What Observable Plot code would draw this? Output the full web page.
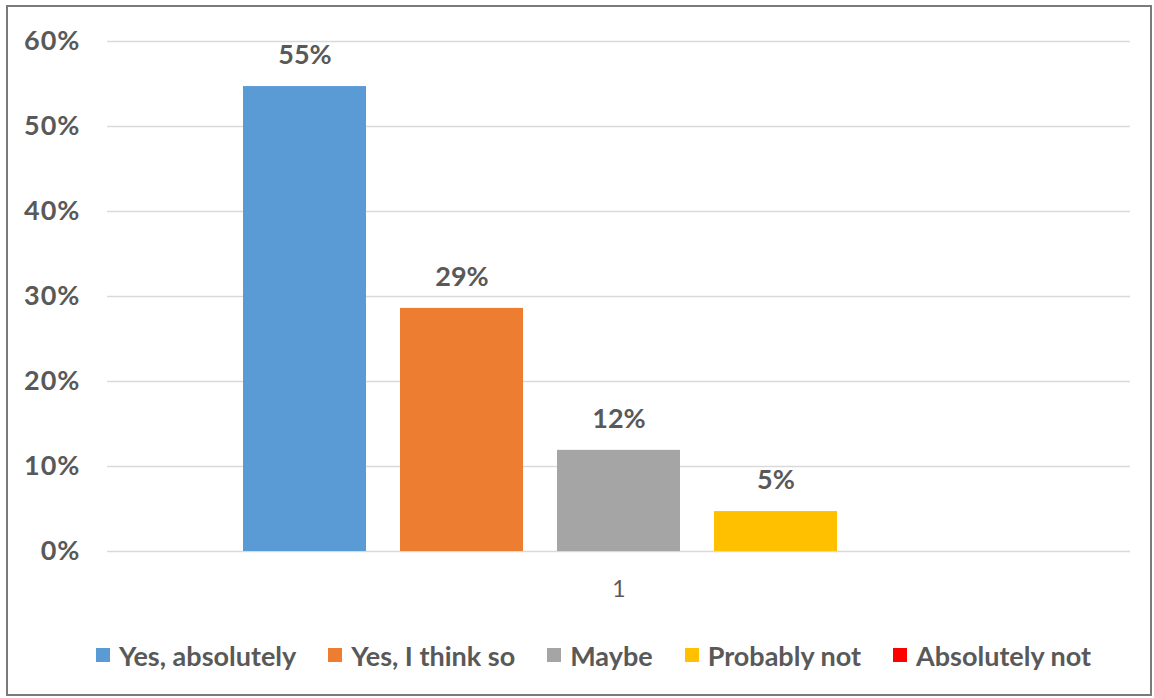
<!DOCTYPE html>
<html><head><meta charset="utf-8">
<script src="https://cdn.jsdelivr.net/npm/d3@7"></script>
<script src="https://cdn.jsdelivr.net/npm/@observablehq/plot@0.6"></script>
<style>
body{margin:0;background:#fff;}
#frame{position:absolute;left:6px;top:5px;width:1146px;height:691px;border:2px solid #7a7a7a;box-sizing:border-box;}
#chart{position:absolute;left:0;top:0;}
#legend{position:absolute;left:96px;top:640px;height:30px;display:flex;align-items:center;font-family:Lato;font-weight:700;font-size:27px;color:#595959;white-space:nowrap;}
.item{display:flex;align-items:center;margin-right:32px;}
.sw{width:14px;height:14px;margin-right:9px;}
.tick-label text{letter-spacing:1px;}
</style></head><body>
<div id="frame"></div><div id="chart"></div><div id="legend"></div>
<script>
const categories = ["1"];
const series = ["Yes, absolutely","Yes, I think so","Maybe","Probably not","Absolutely not"];
const values = [0.547,0.286,0.119,0.047,0];
const colors = ["#5b9bd5","#ed7d31","#a5a5a5","#ffc000","#ff0000"];
const yTicks = [0,0.1,0.2,0.3,0.4,0.5,0.6];
const data = series.map((s,i)=>({category: categories[0], series:s, value: values[i]}));
const pct = d3.format(".0%");
const chart = Plot.plot({
  width:1154, height:620, marginLeft:107, marginRight:24, marginTop:41, marginBottom:69,
  style:{fontFamily:"Lato", fontSize:"27px", color:"#595959", background:"transparent", overflow:"visible"},
  fx:{domain:categories, padding:0, label:null},
  x:{domain:series, axis:null, paddingInner:0.217, paddingOuter:0.86},
  y:{domain:[0,0.6], label:null},
  color:{domain:series, range:colors},
  marks:[
    Plot.gridY(yTicks,{stroke:"#d9d9d9", strokeOpacity:1, strokeWidth:1.5}),
    Plot.axisY(yTicks,{tickFormat:pct, tickSize:0, tickPadding:27, fontWeight:700, fill:"#595959", label:null, className:"tick-label"}),
    Plot.axisFx({anchor:"bottom", tickSize:0, tickPadding:29, fontSize:23, fill:"#595959", label:null}),
    Plot.barY(data,{fx:"category", x:"series", y:"value", fill:"series"}),
    Plot.text(data.filter(d=>d.value>0),{fx:"category", x:"series", y:"value", text:d=>pct(d.value), dy:-31, lineAnchor:"middle", fontWeight:700, fill:"#595959"})
  ]
});
document.getElementById("chart").appendChild(chart);
const legend = d3.select("#legend");
series.forEach((s,i)=>{
  const it = legend.append("div").attr("class","item");
  it.append("div").attr("class","sw").style("background",colors[i]);
  it.append("span").text(s);
});
</script>
</body></html>
